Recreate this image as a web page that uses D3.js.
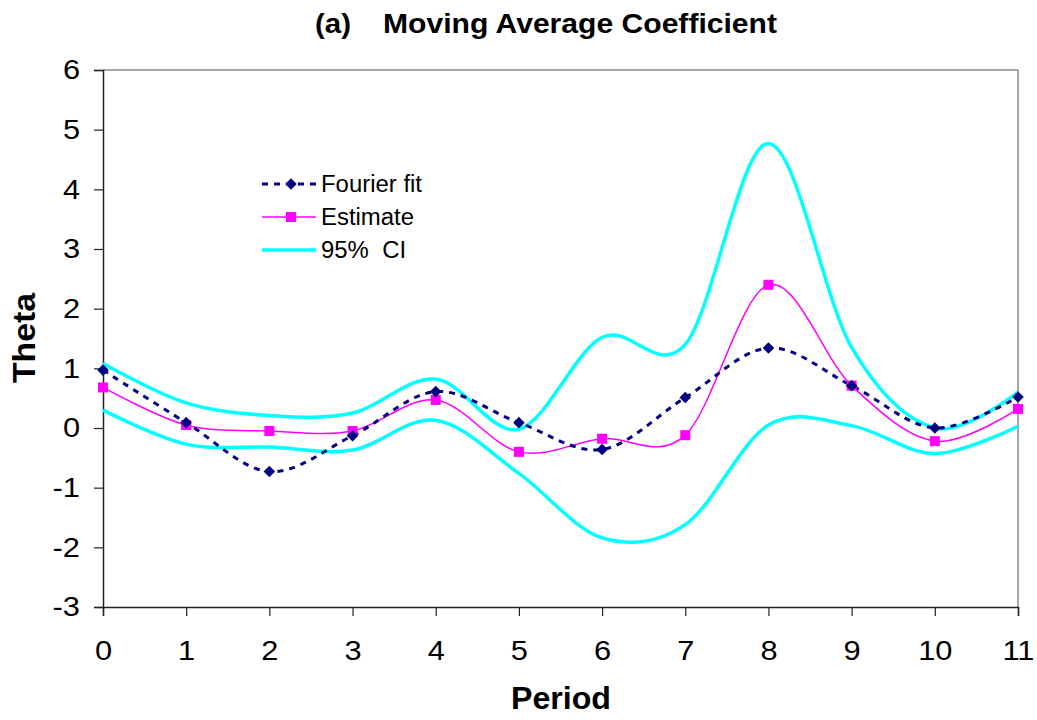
<!DOCTYPE html>
<html>
<head>
<meta charset="utf-8">
<script src="https://cdn.jsdelivr.net/npm/d3@7"></script>
<style>
  body { margin: 0; background: #fff; }
  svg { font-family: "Liberation Sans", Arial, sans-serif; }
</style>
</head>
<body>
<svg id="chart" width="1037" height="720"></svg>
<script>
// values
const periods = [0, 1, 2, 3, 4, 5, 6, 7, 8, 9, 10, 11];
const fourierFit = [0.97, 0.09, -0.73, -0.13, 0.61, 0.09, -0.36, 0.51, 1.34, 0.71, 0.0, 0.52];
const estimate = [0.68, 0.05, -0.05, -0.05, 0.47, -0.40, -0.18, -0.12, 2.40, 0.71, -0.22, 0.32];
const ciUpper = [1.08, 0.42, 0.21, 0.25, 0.82, -0.02, 1.52, 1.40, 4.77, 1.35, 0.0, 0.60];
const ciLower = [0.30, -0.27, -0.32, -0.37, 0.13, -0.76, -1.84, -1.62, 0.05, 0.04, -0.43, 0.03];
const yTicks = [-3, -2, -1, 0, 1, 2, 3, 4, 5, 6];

const svg = d3.select('#chart');
const margin = { left: 103, right: 19, top: 70, bottom: 113 };
const width = +svg.attr('width');
const height = +svg.attr('height');

const x = d3.scaleLinear().domain([0, 11]).range([margin.left, width - margin.right]);
const y = d3.scaleLinear().domain([-3, 6]).range([height - margin.bottom, margin.top]);

// the original text is a bit wider than the font, stretch it
const widen = (sel, k) => sel.each(function () {
  const w = this.getComputedTextLength() * k;
  d3.select(this).attr('textLength', w).attr('lengthAdjust', 'spacingAndGlyphs');
});

// plot frame (top and right are grey)
svg.append('line')
  .attr('x1', x(0)).attr('x2', x(11)).attr('y1', y(6)).attr('y2', y(6))
  .attr('stroke', '#8a8a8a').attr('stroke-width', 1.5);
svg.append('line')
  .attr('x1', x(11)).attr('x2', x(11)).attr('y1', y(6)).attr('y2', y(-3))
  .attr('stroke', '#8a8a8a').attr('stroke-width', 1.5);

// axes
const xAxis = svg.append('g')
  .attr('transform', `translate(0,${y(-3)})`)
  .call(d3.axisBottom(x).tickValues(periods).tickFormat(d3.format('d')).tickSize(9).tickPadding(24));
const yAxis = svg.append('g')
  .attr('transform', `translate(${x(0)},0)`)
  .call(d3.axisLeft(y).tickValues(yTicks).tickFormat(d => d < 0 ? '-' + Math.abs(d) : d).tickSize(9).tickPadding(14));

[xAxis, yAxis].forEach(ax => {
  ax.selectAll('path').attr('stroke', '#222').attr('stroke-width', 1.5);
  ax.selectAll('line').attr('stroke', '#222').attr('stroke-width', 1.2);
  ax.selectAll('text')
    .attr('font-family', '"Liberation Sans", Arial, sans-serif')
    .attr('font-size', 28).attr('fill', '#000')
    .call(widen, 1.1);
});

const smooth = d3.line()
  .x((d, i) => x(periods[i]))
  .y(d => y(d))
  .curve(d3.curveCardinal.tension(0));

// 95% CI
[ciUpper, ciLower].forEach(s => {
  svg.append('path').datum(s)
    .attr('d', smooth)
    .attr('fill', 'none')
    .attr('stroke', '#00ffff')
    .attr('stroke-width', 3.5);
});

// estimate
svg.append('path').datum(estimate)
  .attr('d', smooth)
  .attr('fill', 'none')
  .attr('stroke', '#ff00ff')
  .attr('stroke-width', 1.5);

// fourier fit
svg.append('path').datum(fourierFit)
  .attr('d', smooth)
  .attr('fill', 'none')
  .attr('stroke', '#000080')
  .attr('stroke-width', 3)
  .attr('stroke-dasharray', '6,6');

svg.append('g').selectAll('rect')
  .data(estimate).enter().append('rect')
  .attr('x', (d, i) => x(periods[i]) - 5)
  .attr('y', d => y(d) - 5)
  .attr('width', 10).attr('height', 10)
  .attr('fill', '#ff00ff');

const diamond = d3.symbol().type(d3.symbolDiamond2).size(85);
svg.append('g').selectAll('path')
  .data(fourierFit).enter().append('path')
  .attr('d', diamond)
  .attr('transform', (d, i) => `translate(${x(periods[i])},${y(d)})`)
  .attr('fill', '#000080');

// legend
const legendItems = [
  { name: 'Fourier fit', color: '#000080', width: 3, dash: '6,6', marker: 'diamond' },
  { name: 'Estimate', color: '#ff00ff', width: 1.5, dash: null, marker: 'square' },
  { name: '95%  CI', color: '#00ffff', width: 3.5, dash: null, marker: null }
];
const legend = svg.append('g').attr('transform', 'translate(262,184)');
legendItems.forEach((it, i) => {
  const g = legend.append('g').attr('transform', `translate(0,${i * 33})`);
  g.append('line')
    .attr('x1', 0).attr('x2', 54).attr('y1', 0).attr('y2', 0)
    .attr('stroke', it.color).attr('stroke-width', it.width)
    .attr('stroke-dasharray', it.dash);
  if (it.marker === 'diamond') {
    g.append('path').attr('d', diamond).attr('transform', 'translate(29,0)').attr('fill', it.color);
  } else if (it.marker === 'square') {
    g.append('rect').attr('x', 24).attr('y', -5).attr('width', 10).attr('height', 10).attr('fill', it.color);
  }
  g.append('text')
    .attr('x', 59).attr('y', 0).attr('dy', '0.36em')
    .attr('font-size', 23)
    .style('white-space', 'pre')
    .text(it.name)
    .call(widen, 1.04);
});

// titles
svg.append('text')
  .attr('x', 315).attr('y', 33)
  .attr('font-size', 27).attr('font-weight', 'bold')
  .text('(a)')
  .attr('textLength', 36).attr('lengthAdjust', 'spacingAndGlyphs');
svg.append('text')
  .attr('x', 383).attr('y', 33)
  .attr('font-size', 27).attr('font-weight', 'bold')
  .text('Moving Average Coefficient')
  .attr('textLength', 394).attr('lengthAdjust', 'spacingAndGlyphs');

svg.append('text')
  .attr('x', 511).attr('y', 709)
  .attr('font-size', 31).attr('font-weight', 'bold')
  .text('Period')
  .attr('textLength', 100).attr('lengthAdjust', 'spacingAndGlyphs');

svg.append('text')
  .attr('transform', 'translate(35,383) rotate(-90)')
  .attr('font-size', 31).attr('font-weight', 'bold')
  .text('Theta')
  .attr('textLength', 90).attr('lengthAdjust', 'spacingAndGlyphs');
</script>
</body>
</html>
